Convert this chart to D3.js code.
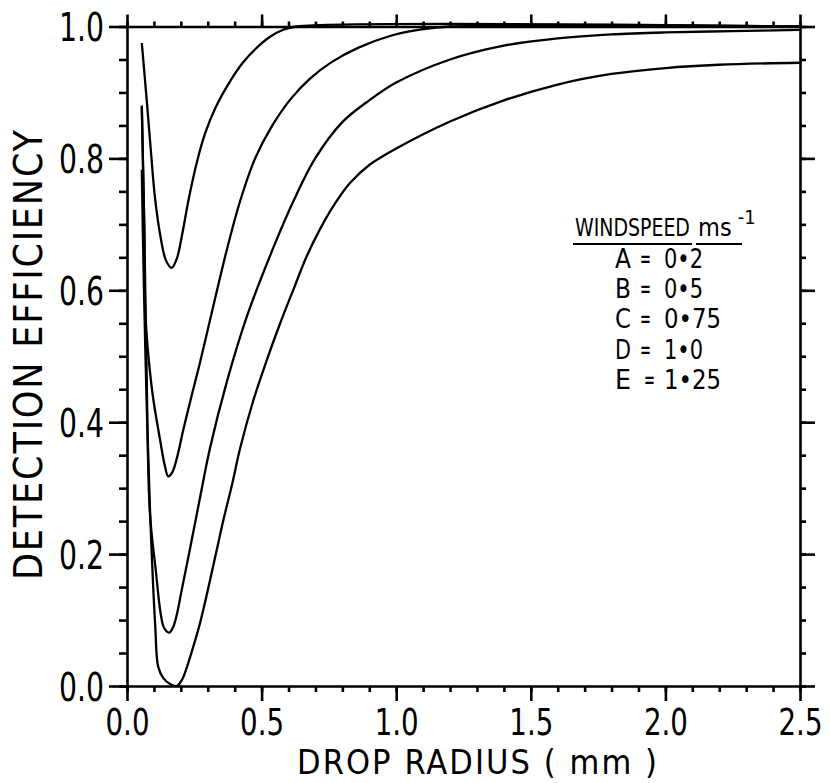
<!DOCTYPE html>
<html>
<head>
<meta charset="utf-8">
<script src="https://cdn.jsdelivr.net/npm/d3@7"></script>
<style>
  html, body { margin: 0; padding: 0; background: #fff; }
  svg { display: block; }
  text { font-family: "DejaVu Sans Condensed", "DejaVu Sans", sans-serif; fill: #000; }
</style>
</head>
<body>
<svg id="chart" width="830" height="783"></svg>
<script>
// ---------------- data ----------------
const xMajorTicks = [0, 0.5, 1.0, 1.5, 2.0, 2.5];
const xTickLabels = ["0.0", "0.5", "1.0", "1.5", "2.0", "2.5"];
const yMajorTicks = [0, 0.2, 0.4, 0.6, 0.8, 1.0];
const yTickLabels = ["0.0", "0.2", "0.4", "0.6", "0.8", "1.0"];
const xMinorTicks = d3.range(0, 26).map(i => i / 10);
const yMinorTicks = d3.range(0, 21).map(i => i / 20);

// curves: [drop radius (mm), detection efficiency]
const curveA = [[0.055,0.975],[0.075,0.88],[0.088,0.815],[0.104,0.74],[0.125,0.68],[0.145,0.645],[0.166,0.634],[0.185,0.648],[0.205,0.685],[0.230,0.74],[0.26,0.795],[0.29,0.838],[0.33,0.878],[0.38,0.915],[0.43,0.945],[0.48,0.967],[0.53,0.984],[0.58,0.995],[0.63,1.0],[2.5,1.0]];
const curveB = [[0.055,0.879],[0.060,0.78],[0.064,0.70],[0.069,0.56],[0.082,0.49],[0.098,0.434],[0.123,0.373],[0.140,0.335],[0.153,0.318],[0.168,0.324],[0.185,0.345],[0.21,0.39],[0.24,0.44],[0.271,0.49],[0.32,0.575],[0.37,0.66],[0.42,0.735],[0.476,0.80],[0.54,0.85],[0.61,0.891],[0.68,0.921],[0.76,0.946],[0.86,0.968],[0.98,0.986],[1.1,0.996],[1.2,1.0],[2.5,1.0]];
const curveC = [[0.055,0.88],[0.060,0.78],[0.064,0.70],[0.072,0.50],[0.085,0.263],[0.107,0.175],[0.125,0.11],[0.138,0.088],[0.157,0.081],[0.172,0.09],[0.186,0.11],[0.203,0.145],[0.235,0.21],[0.271,0.285],[0.308,0.36],[0.37,0.46],[0.445,0.56],[0.544,0.665],[0.618,0.735],[0.699,0.80],[0.8,0.855],[0.9,0.888],[1.0,0.915],[1.2,0.950],[1.4,0.971],[1.6,0.982],[1.8,0.988],[2.0,0.991],[2.25,0.993],[2.5,0.995]];
const curveD = [[0.055,0.783],[0.062,0.62],[0.075,0.40],[0.088,0.24],[0.105,0.09],[0.116,0.029],[0.135,0.012],[0.16,0.003],[0.185,0.0],[0.205,0.01],[0.222,0.028],[0.245,0.058],[0.271,0.095],[0.30,0.145],[0.33,0.2],[0.36,0.255],[0.39,0.305],[0.42,0.36],[0.47,0.434],[0.52,0.495],[0.569,0.55],[0.62,0.603],[0.668,0.652],[0.72,0.695],[0.767,0.728],[0.829,0.763],[0.9,0.79],[1.0,0.815],[1.2,0.856],[1.4,0.888],[1.6,0.912],[1.8,0.928],[2.0,0.937],[2.2,0.942],[2.5,0.945]];
const curves = [curveA, curveB, curveC, curveD];

const legendLetters = ["A", "B", "C", "D", "E"];
const legendSpeeds = ["0•2", "0•5", "0•75", "1•0", "1•25"];

// ---------------- drawing ----------------
const svg = d3.select("#chart");
const x = d3.scaleLinear().domain([0, 2.5]).range([127, 800]);
const y = d3.scaleLinear().domain([0, 1]).range([686, 26.5]);

// squeeze a text horizontally to a target width around a given anchor point
function fitWidth(sel, target, tx, ty) {
  sel.each(function () {
    const n = this.getComputedTextLength();
    const s = n > 0 ? Math.min(1, target / n) : 1;
    d3.select(this).attr("x", 0).attr("transform", `translate(${tx},${ty}) scale(${s},1)`);
  });
}

const axisStroke = 2.6;
function styleAxis(g, keepDomain) {
  g.selectAll(".tick line").attr("stroke", "#000").attr("stroke-width", axisStroke);
  g.select(".domain").attr("stroke", keepDomain ? "#000" : "none").attr("stroke-width", axisStroke);
}

// bottom
svg.append("g").attr("transform", `translate(0,${y(0)})`)
  .call(d3.axisBottom(x).tickValues(xMinorTicks).tickSize(6).tickSizeOuter(0).tickFormat(""))
  .call(g => styleAxis(g, true));
const xb = svg.append("g").attr("transform", `translate(0,${y(0)})`)
  .call(d3.axisBottom(x).tickValues(xMajorTicks).tickSize(15).tickSizeOuter(0).tickPadding(7)
    .tickFormat((d, i) => xTickLabels[i]))
  .call(g => styleAxis(g, false));
xb.selectAll("text").attr("font-size", 38).style("font-family", null);
fitWidth(xb.selectAll("text"), 44, 0, 0);
// top
svg.append("g").attr("transform", `translate(0,${y(1)})`)
  .call(d3.axisTop(x).tickValues(xMinorTicks).tickSize(5).tickSizeOuter(0).tickFormat(""))
  .call(g => styleAxis(g, true));
svg.append("g").attr("transform", `translate(0,${y(1)})`)
  .call(d3.axisTop(x).tickValues(xMajorTicks).tickSize(12).tickSizeOuter(0).tickFormat(""))
  .call(g => styleAxis(g, false));
// left
svg.append("g").attr("transform", `translate(${x(0)},0)`)
  .call(d3.axisLeft(y).tickValues(yMinorTicks).tickSize(8).tickSizeOuter(0).tickFormat(""))
  .call(g => styleAxis(g, true));
const yl = svg.append("g").attr("transform", `translate(${x(0)},0)`)
  .call(d3.axisLeft(y).tickValues(yMajorTicks).tickSize(18).tickSizeOuter(0).tickPadding(5)
    .tickFormat((d, i) => yTickLabels[i]))
  .call(g => styleAxis(g, false));
yl.selectAll("text").attr("font-size", 39).attr("dy", "0.36em").style("font-family", null);
fitWidth(yl.selectAll("text"), 45, -23, 0);
// right
svg.append("g").attr("transform", `translate(${x(2.5)},0)`)
  .call(d3.axisRight(y).tickValues(yMinorTicks).tickSize(6).tickSizeOuter(0).tickFormat(""))
  .call(g => styleAxis(g, true));
svg.append("g").attr("transform", `translate(${x(2.5)},0)`)
  .call(d3.axisRight(y).tickValues(yMajorTicks).tickSize(15).tickSizeOuter(0).tickFormat(""))
  .call(g => styleAxis(g, false));

// curves
const line = d3.line().x(d => x(d[0])).y(d => y(d[1])).curve(d3.curveCatmullRom.alpha(0.5));
svg.append("g").selectAll("path").data(curves).join("path")
  .attr("d", line).attr("fill", "none").attr("stroke", "#000")
  .attr("stroke-width", 2.3).attr("stroke-linejoin", "round");

// axis titles
svg.append("text").attr("x", 477).attr("y", 774).attr("text-anchor", "middle")
  .attr("font-size", 34).attr("textLength", 360).attr("lengthAdjust", "spacing")
  .text("DROP RADIUS ( mm )");
svg.append("text").attr("transform", "translate(42,355) rotate(-90)").attr("text-anchor", "middle")
  .attr("font-size", 39).attr("textLength", 450).attr("lengthAdjust", "spacing")
  .text("DETECTION EFFICIENCY");

// legend
const lg = svg.append("g");
const head = lg.append("text").attr("font-size", 25).text("WINDSPEED");
fitWidth(head, 115, 575, 236);
lg.append("line").attr("x1", 573).attr("x2", 692).attr("y1", 244).attr("y2", 244)
  .attr("stroke", "#000").attr("stroke-width", 2.2);
const unit = lg.append("text").attr("x", 698).attr("y", 236).attr("font-size", 25);
unit.append("tspan").text("ms");
unit.append("tspan").attr("dx", 6).attr("dy", -12).attr("font-size", 20).text("-1");
lg.append("line").attr("x1", 696).attr("x2", 742).attr("y1", 244).attr("y2", 244)
  .attr("stroke", "#000").attr("stroke-width", 2.2);

const rows = lg.selectAll("g.row").data(legendLetters).join("g").attr("class", "row")
  .attr("transform", (d, i) => `translate(0,${268 + i * 30.2})`);
rows.append("text").attr("x", 615).attr("font-size", 26)
  .attr("textLength", 16).attr("lengthAdjust", "spacingAndGlyphs").text(d => d);
rows.append("text").attr("x", (d, i) => i === 4 ? 644 : 640).attr("font-size", 26)
  .attr("textLength", 11).attr("lengthAdjust", "spacingAndGlyphs").text("=");
rows.append("text").attr("x", 664).attr("font-size", 26)
  .attr("textLength", (d, i) => legendSpeeds[i].length > 3 ? 57 : 39)
  .attr("lengthAdjust", "spacingAndGlyphs")
  .text((d, i) => legendSpeeds[i]);
</script>
</body>
</html>
